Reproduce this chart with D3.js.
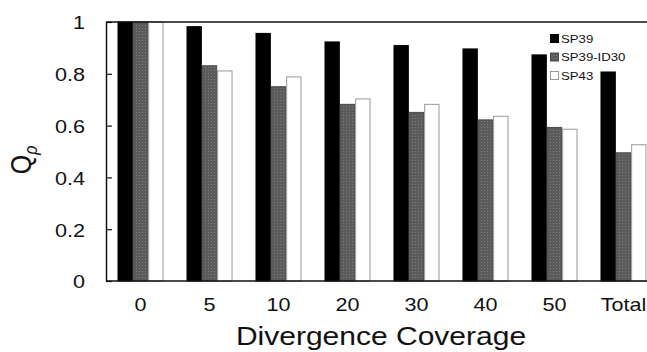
<!DOCTYPE html>
<html>
<head>
<meta charset="utf-8">
<script src="https://cdnjs.cloudflare.com/ajax/libs/d3/7.8.5/d3.min.js"></script>
<style>
  body { margin: 0; background: #fff; }
  svg { display: block; }
  text { font-family: "Liberation Sans", Arial, sans-serif; fill: #111; }
</style>
</head>
<body>
<script>
// data
var categories = ["0", "5", "10", "20", "30", "40", "50", "Total"];
var seriesNames = ["SP39", "SP39-ID30", "SP43"];
var sp39 = [1.0, 0.982, 0.956, 0.923, 0.909, 0.896, 0.873, 0.807];
var sp39id30 = [1.0, 0.831, 0.750, 0.682, 0.651, 0.622, 0.593, 0.495];
var sp43 = [1.0, 0.811, 0.788, 0.703, 0.682, 0.636, 0.586, 0.526];
var yTicks = [0, 0.2, 0.4, 0.6, 0.8, 1];

var width = 647, height = 352;
var plotLeft = 106, plotTop = 22, plotBottom = 281, plotRight = 658;
var stretch = 1.2; // text in the picture is a bit wide

var svg = d3.select("body").append("svg")
    .attr("width", width)
    .attr("height", height);

// dotted gray fill
var defs = svg.append("defs");
var pat = defs.append("pattern")
    .attr("id", "dots")
    .attr("patternUnits", "userSpaceOnUse")
    .attr("width", 3)
    .attr("height", 3);
pat.append("rect").attr("width", 3).attr("height", 3).attr("fill", "#5b5b5b");
pat.append("rect").attr("x", 1).attr("y", 1).attr("width", 1).attr("height", 1).attr("fill", "#7d7d7d");

var x0 = d3.scaleBand()
    .domain(categories)
    .range([plotLeft, plotRight])
    .paddingInner(0.333)
    .paddingOuter(0.1667);

var x1 = d3.scaleBand()
    .domain(seriesNames)
    .range([0, x0.bandwidth()]);

var y = d3.scaleLinear()
    .domain([0, 1])
    .range([plotBottom, plotTop]);

var fills = { "SP39": "#000", "SP39-ID30": "url(#dots)", "SP43": "#fff" };
var strokes = { "SP39": "#000", "SP39-ID30": "#4a4a4a", "SP43": "#999" };
var values = { "SP39": sp39, "SP39-ID30": sp39id30, "SP43": sp43 };

// bars
seriesNames.forEach(function (s) {
    svg.append("g").selectAll("rect")
        .data(categories)
        .enter().append("rect")
        .attr("x", function (d) { return x0(d) + x1(s) + 0.5; })
        .attr("y", function (d, i) { return y(values[s][i]); })
        .attr("width", x1.bandwidth() - 1)
        .attr("height", function (d, i) { return plotBottom - y(values[s][i]); })
        .attr("fill", fills[s])
        .attr("stroke", strokes[s])
        .attr("stroke-width", 1);
});

// frame lines
svg.append("line").attr("x1", plotLeft).attr("x2", width).attr("y1", plotTop).attr("y2", plotTop)
    .attr("stroke", "#111").attr("stroke-width", 1.5);
svg.append("line").attr("x1", plotLeft).attr("x2", width).attr("y1", plotBottom).attr("y2", plotBottom)
    .attr("stroke", "#111").attr("stroke-width", 1.5);

// y axis, ticks pointing inward
var yAxis = svg.append("g")
    .attr("transform", "translate(" + plotLeft + ",0)")
    .call(d3.axisLeft(y).tickValues(yTicks).tickSizeInner(-6).tickSizeOuter(0));
yAxis.select(".domain").attr("stroke", "#111").attr("stroke-width", 1.5);
yAxis.selectAll(".tick line").attr("stroke", "#111").attr("stroke-width", 1.2);
yAxis.selectAll(".tick text").remove();

function stretchedText(x, yy, str, size, anchor) {
    return svg.append("text")
        .attr("transform", "translate(" + x + "," + yy + ") scale(" + stretch + ",1)")
        .attr("text-anchor", anchor)
        .attr("dominant-baseline", "central")
        .attr("font-size", size)
        .text(str);
}

yTicks.forEach(function (t) {
    stretchedText(85, y(t) + 1, d3.format("")(t), 18, "end");
});

// x tick labels (no tick marks)
categories.forEach(function (c) {
    stretchedText(x0(c) + x0.bandwidth() / 2, 305, c, 18, "middle");
});

// axis titles
stretchedText(381, 336, "Divergence Coverage", 25, "middle");

var yTitle = svg.append("text")
    .attr("transform", "translate(31,160) rotate(-90) scale(1," + stretch + ")")
    .attr("text-anchor", "middle")
    .attr("font-size", 25);
yTitle.append("tspan").text("Q");
yTitle.append("tspan").attr("font-size", 16).attr("font-style", "italic").attr("dy", 5).text("ρ");

// legend
var legend = svg.append("g");
seriesNames.forEach(function (s, i) {
    var ly = 39 + i * 18.5;
    legend.append("rect")
        .attr("x", 550.5).attr("y", ly - 4.5)
        .attr("width", 8).attr("height", 8)
        .attr("fill", fills[s])
        .attr("stroke", strokes[s]);
    stretchedText(561, ly, s, 11, "start");
});
</script>
</body>
</html>
